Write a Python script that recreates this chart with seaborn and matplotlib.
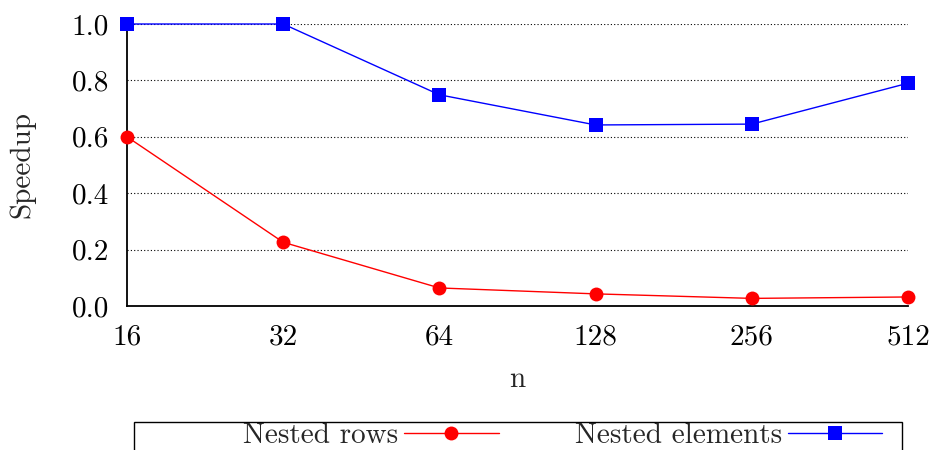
import matplotlib
matplotlib.use("Agg")
import matplotlib.pyplot as plt
import seaborn as sns
import pandas as pd
from matplotlib.patches import Rectangle

n_values = [16, 32, 64, 128, 256, 512]
nested_rows = [0.600, 0.226, 0.064, 0.043, 0.027, 0.032]
nested_elements = [1.000, 1.000, 0.749, 0.642, 0.645, 0.790]
series_names = ["Nested rows", "Nested elements"]
x_tick_labels = ["16", "32", "64", "128", "256", "512"]
y_ticks = [0.0, 0.2, 0.4, 0.6, 0.8, 1.0]

df = pd.DataFrame({
    "n": n_values * 2,
    "Speedup": nested_rows + nested_elements,
    "series": [series_names[0]] * len(n_values) + [series_names[1]] * len(n_values),
})

sns.set_style("white")
plt.rcParams["font.family"] = "serif"
plt.rcParams["font.serif"] = ["cmr10", "DejaVu Serif"]
plt.rcParams["axes.formatter.use_mathtext"] = True
plt.rcParams["mathtext.fontset"] = "cm"

FS = 21

fig = plt.figure(figsize=(9.31, 4.5), dpi=100)
ax = fig.add_axes([127 / 931, 1 - 306 / 450, (908 - 127) / 931, (306 - 24) / 450])

sns.lineplot(
    data=df, x="n", y="Speedup", hue="series", style="series",
    palette={"Nested rows": "#ff0000", "Nested elements": "#0000ff"},
    markers={"Nested rows": "o", "Nested elements": "s"},
    dashes=False, markersize=10, markeredgewidth=0, linewidth=1.0,
    ax=ax, clip_on=False, legend=True, zorder=3,
)

ax.set_xscale("log", base=2)
ax.set_xlim(16, 512)
ax.set_ylim(0, 1.0)
ax.set_xticks(n_values)
ax.set_xticklabels(x_tick_labels)
ax.minorticks_off()
ax.set_yticks(y_ticks)
ax.set_yticklabels([f"{v:.1f}" for v in y_ticks])

for s in ["top", "right"]:
    ax.spines[s].set_visible(False)
for s in ["left", "bottom"]:
    ax.spines[s].set_color("black")
    ax.spines[s].set_linewidth(1.3)

ax.tick_params(axis="x", direction="in", length=6, width=1, colors="black",
               labelsize=FS, pad=13)
ax.tick_params(axis="y", length=0, colors="black", labelsize=FS, pad=13)
ax.yaxis.grid(True, linestyle=(0, (1, 2)), color="black", linewidth=0.8)
ax.xaxis.grid(False)
ax.set_axisbelow(True)

ax.set_xlabel("n", fontsize=FS, labelpad=12)
ax.set_ylabel("Speedup", fontsize=FS, labelpad=26)

handles, labels = ax.get_legend_handles_labels()
ax.get_legend().remove()
leg = fig.legend(
    handles, labels, loc="center left",
    bbox_to_anchor=(243 / 931, 1 - 436 / 450), bbox_transform=fig.transFigure,
    ncol=2, frameon=False, markerfirst=False, fontsize=FS,
    handlelength=3.25, handletextpad=0.2, columnspacing=2.6,
    borderpad=0, borderaxespad=0,
)

fig.patches.append(Rectangle(
    (134 / 931, 1 - 470 / 450), (902 - 134) / 931, (470 - 422) / 450,
    transform=fig.transFigure, fill=False, edgecolor="black", linewidth=1.0,
))

fig.savefig("out.png", dpi=100)
